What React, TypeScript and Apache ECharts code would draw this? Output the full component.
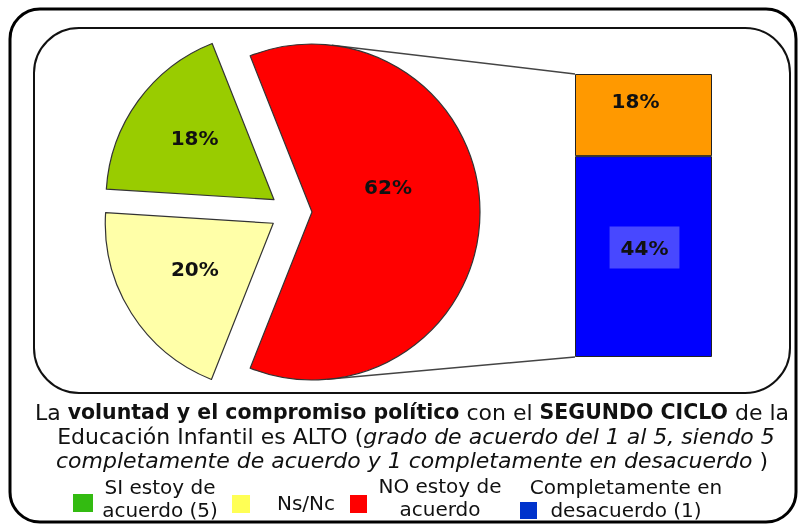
import React, { useEffect, useRef } from 'react';
import * as echarts from 'echarts';

// ---- data ----
const pieNames = ['NO estoy de acuerdo', 'Ns/Nc', 'SI estoy de acuerdo (5)'];
const pieValues = [62, 20, 18];
const pieColors = ['#ff0000', '#ffffa8', '#99cc00'];

const barNames = ['Completamente en desacuerdo (1)', 'En desacuerdo (2)'];
const barValues = [44, 18];
const barColors = ['#0000ff', '#ff9900'];

const legendNames = ['SI estoy de\nacuerdo (5)', 'Ns/Nc', 'NO estoy de\nacuerdo', 'Completamente en\ndesacuerdo (1)'];
const legendColors = ['#33bb11', '#ffff55', '#ff0000', '#0033cc'];

const titleLines = [
  '{n|La }{b|voluntad y el compromiso político}{n| con el }{b|SEGUNDO CICLO}{n| de la}',
  '{n|Educación Infantil es ALTO (}{i|grado de acuerdo del 1 al 5, siendo 5}',
  '{i|completamente de acuerdo y 1 completamente en desacuerdo}{n| )}',
];

// ---- layout ----
const FONT = 'DejaVu Sans';
const PIE_C = [291, 212];
const PIE_R = 168;
const PIE_OFF = 21;
const START = 111.6;
const GRID = { left: 575, top: 74, width: 137, height: 283 };
const pieLabelShift = [[-11, -25], [-5, -1], [-9, -11]];
const legendLayout = [
  { icon: [73, 494, 20, 18], tx: 160, ty: 498 },
  { icon: [232, 495, 18, 18], tx: 306, ty: 503 },
  { icon: [350, 495, 17, 18], tx: 440, ty: 497 },
  { icon: [520, 502, 17, 17], tx: 626, ty: 498 },
];
const titleY = [412, 436, 460];
const titleX = [412, 416, 412];

function tangent(cx: number, cy: number, r: number, px: number, py: number, sign: number) {
  const vx = px - cx, vy = py - cy;
  const d = Math.sqrt(vx * vx + vy * vy);
  const phi = Math.atan2(vy, vx);
  const a = Math.acos(r / d);
  const t = phi + sign * a;
  return [cx + r * Math.cos(t), cy + r * Math.sin(t)];
}

export default function App() {
  const ref = useRef<HTMLDivElement>(null);
  useEffect(() => {
    if (!ref.current) return;
    const chart = echarts.init(ref.current, null, { renderer: 'svg' });
    const total = pieValues.reduce((a, b) => a + b, 0);
    const barTotal = barValues.reduce((a, b) => a + b, 0);
    chart.setOption({
      animation: false,
      grid: { left: GRID.left, top: GRID.top, width: GRID.width, height: GRID.height },
      xAxis: { type: 'category', data: ['x'], show: false },
      yAxis: { type: 'value', min: 0, max: barTotal, show: false },
      series: [
        {
          type: 'pie',
          center: PIE_C,
          radius: PIE_R,
          startAngle: START,
          clockwise: true,
          selectedMode: 'multiple',
          selectedOffset: PIE_OFF,
          emphasis: { disabled: true },
          itemStyle: { borderColor: '#333', borderWidth: 1.2 },
          label: {
            show: true,
            position: 'inside',
            formatter: '{c}%',
            color: '#111',
            fontFamily: FONT,
            fontWeight: 'bold',
            fontSize: 20,
          },
          labelLayout: (p: any) => ({ dx: pieLabelShift[p.dataIndex][0], dy: pieLabelShift[p.dataIndex][1] }),
          data: pieValues.map((v, i) => ({
            name: pieNames[i],
            value: v,
            selected: true,
            itemStyle: { color: pieColors[i] },
          })),
        },
        ...barValues.map((v, i) => ({
          type: 'bar',
          name: barNames[i],
          stack: 's',
          barWidth: '100%',
          data: [v],
          emphasis: { disabled: true },
          itemStyle: { color: barColors[i], borderColor: '#222', borderWidth: 1 },
          label: i === 0
            ? {
                show: true, position: 'inside', formatter: '{c}%', color: '#111',
                fontFamily: FONT, fontWeight: 'bold', fontSize: 20,
                backgroundColor: '#4848ff', padding: [11, 11], offset: [1, -9],
              }
            : {
                show: true, position: 'inside', formatter: '{c}%', color: '#111',
                fontFamily: FONT, fontWeight: 'bold', fontSize: 20, offset: [-8, -14],
              },
        })),
      ],
    });

    // connector lines tangent to the exploded red slice
    const mid = ((START - (pieValues[0] / total) * 180) * Math.PI) / 180;
    const rc = [PIE_C[0] + PIE_OFF * Math.cos(mid), PIE_C[1] - PIE_OFF * Math.sin(mid)];
    const yTop = chart.convertToPixel({ yAxisIndex: 0 }, barTotal) as number;
    const yBot = chart.convertToPixel({ yAxisIndex: 0 }, 0) as number;
    const t1 = tangent(rc[0], rc[1], PIE_R, GRID.left, yTop, -1);
    const t2 = tangent(rc[0], rc[1], PIE_R, GRID.left, yBot, 1);

    const rich = {
      n: { fontFamily: FONT, fontSize: 22, fill: '#111', color: '#111' },
      b: { fontFamily: FONT, fontSize: 20.5, fontWeight: 'bold', fill: '#111', color: '#111' },
      i: { fontFamily: FONT, fontSize: 22, fontStyle: 'italic', fill: '#111', color: '#111' },
    };

    const graphic: any[] = [
      {
        type: 'rect', z: -10, silent: true,
        shape: { x: 10, y: 9, width: 786, height: 513, r: 30 },
        style: { fill: '#fff', stroke: '#000', lineWidth: 3 },
      },
      {
        type: 'rect', z: -9, silent: true,
        shape: { x: 34, y: 28, width: 756, height: 365, r: 45 },
        style: { fill: '#fff', stroke: '#111', lineWidth: 2 },
      },
      {
        type: 'line', z: 1, silent: true,
        shape: { x1: t1[0], y1: t1[1], x2: GRID.left, y2: yTop },
        style: { stroke: '#444', lineWidth: 1.5 },
      },
      {
        type: 'line', z: 1, silent: true,
        shape: { x1: t2[0], y1: t2[1], x2: GRID.left, y2: yBot },
        style: { stroke: '#444', lineWidth: 1.5 },
      },
      ...titleLines.map((t, i) => ({
        type: 'text', z: 5, silent: true,
        x: titleX[i], y: titleY[i],
        style: { text: t, rich, align: 'center', verticalAlign: 'middle', font: `22px ${FONT}` },
      })),
    ];
    legendNames.forEach((name, i) => {
      const L = legendLayout[i];
      graphic.push({
        type: 'rect', z: 5, silent: true,
        shape: { x: L.icon[0], y: L.icon[1], width: L.icon[2], height: L.icon[3] },
        style: { fill: legendColors[i] },
      });
      graphic.push({
        type: 'text', z: 5, silent: true,
        x: L.tx, y: L.ty,
        style: {
          text: name, fill: '#111', align: 'center', verticalAlign: 'middle',
          font: `20px ${FONT}`, lineHeight: 23,
        },
      });
    });
    chart.setOption({ graphic });
    return () => chart.dispose();
  }, []);
  return <div ref={ref} style={{ position: 'fixed', left: 0, top: 0, width: 799, height: 524 }} />;
}
